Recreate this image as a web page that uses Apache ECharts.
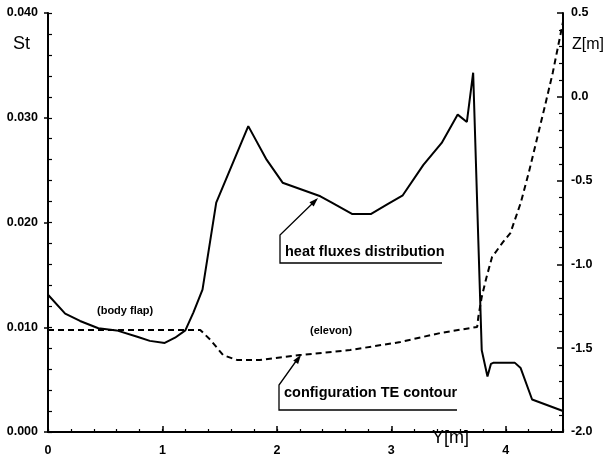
<!DOCTYPE html>
<html><head><meta charset="utf-8">
<script src="https://cdn.jsdelivr.net/npm/echarts@6.0.0/dist/echarts.min.js"></script>
<style>html,body{margin:0;padding:0;background:#fff}#c{width:608px;height:466px}</style>
</head><body><div id="c"></div>
<script>
// Heat flux (Stanton number) distribution
const stY = [0, 0.15, 0.28, 0.44, 0.60, 0.78, 0.89, 1.02, 1.11, 1.20, 1.27, 1.35, 1.47, 1.75, 1.91, 2.05, 2.38, 2.48, 2.66, 2.82, 2.96, 3.10, 3.28, 3.44, 3.58, 3.66, 3.715, 3.76, 3.79, 3.84, 3.87, 3.89, 4.08, 4.13, 4.23, 4.5];
const stVal = [0.0131, 0.0113, 0.0106, 0.0099, 0.0097, 0.0091, 0.0087, 0.0085, 0.0090, 0.0097, 0.0114, 0.0136, 0.0219, 0.0292, 0.0260, 0.0238, 0.0225, 0.0219, 0.0208, 0.0208, 0.0217, 0.0226, 0.0255, 0.0276, 0.0303, 0.0296, 0.0343, 0.0183, 0.0078, 0.0053, 0.0065, 0.0066, 0.0066, 0.0061, 0.0031, 0.0020];
// Configuration TE contour
const zY = [0, 1.33, 1.42, 1.53, 1.65, 1.85, 2.20, 2.64, 3.08, 3.43, 3.75, 3.76, 3.79, 3.83, 3.88, 3.97, 4.04, 4.13, 4.20, 4.27, 4.34, 4.41, 4.5];
const zVal = [-1.391, -1.391, -1.451, -1.541, -1.570, -1.570, -1.541, -1.511, -1.463, -1.409, -1.373, -1.314, -1.194, -1.081, -0.956, -0.872, -0.813, -0.634, -0.455, -0.258, -0.061, 0.142, 0.446];
// Axis texts
const xTitle = 'Y[m]';
const leftTitle = 'St';
const rightTitle = 'Z[m]';
const notes = ['(body flap)', '(elevon)', 'heat fluxes distribution', 'configuration TE contour'];

const stData = stY.map((x, i) => [x, stVal[i]]);
const zData = zY.map((x, i) => [x, zVal[i]]);

const FF = '"Liberation Sans", Arial, sans-serif';
const black = '#000';

function arrow(x0, y0, x1, y1) {
  const dx = x1 - x0, dy = y1 - y0, L = Math.hypot(dx, dy);
  const ux = dx / L, uy = dy / L, px = -uy, py = ux;
  const hl = 9, hw = 3;
  const bx = x1 - ux * hl, by = y1 - uy * hl;
  return {
    type: 'polygon',
    shape: { points: [[x1, y1], [bx + px * hw, by + py * hw], [bx - px * hw, by - py * hw]] },
    style: { fill: black }
  };
}

const chart = echarts.init(document.getElementById('c'), null, { renderer: 'canvas' });
const lbl = { color: black, fontWeight: 'bold', fontSize: 12.5, fontFamily: FF };
chart.setOption({
  animation: false,
  backgroundColor: '#fff',
  grid: { left: 48, right: 45, top: 13, bottom: 34, containLabel: false },
  xAxis: [
    { type: 'value', min: 0, max: 4.5, interval: 1, position: 'bottom',
      axisLine: { onZero: false, lineStyle: { color: black, width: 2 } },
      axisTick: { inside: true, length: 6, lineStyle: { color: black, width: 1.5 } },
      axisLabel: Object.assign({ showMaxLabel: false, margin: 12 }, lbl),
      splitLine: { show: false } },
    { type: 'value', min: 0, max: 4.5, interval: 0.2, position: 'bottom',
      axisLine: { show: false, onZero: false },
      axisTick: { inside: true, length: 3, lineStyle: { color: black, width: 1.2 } },
      axisLabel: { show: false }, splitLine: { show: false } }
  ],
  yAxis: [
    { type: 'value', min: 0, max: 0.04, interval: 0.01, position: 'left',
      axisLine: { show: true, onZero: false, lineStyle: { color: black, width: 2 } },
      axisTick: { show: true, inside: false, length: 4, lineStyle: { color: black, width: 1.5 } },
      axisLabel: Object.assign({ margin: 10, formatter: v => v.toFixed(3) }, lbl),
      splitLine: { show: false } },
    { type: 'value', min: -2, max: 0.5, interval: 0.5, position: 'right',
      axisLine: { show: true, onZero: false, lineStyle: { color: black, width: 2 } },
      axisTick: { show: true, inside: true, length: 6, lineStyle: { color: black, width: 1.5 } },
      minorTick: { show: true, splitNumber: 5, length: 4, lineStyle: { color: black, width: 1.2 } },
      axisLabel: Object.assign({ margin: 8, formatter: v => v.toFixed(1) }, lbl),
      splitLine: { show: false } },
    { type: 'value', min: 0, max: 0.04, interval: 0.002, position: 'left',
      axisLine: { show: false, onZero: false },
      axisTick: { show: true, inside: true, length: 4, lineStyle: { color: black, width: 1.2 } },
      axisLabel: { show: false }, splitLine: { show: false } }
  ],
  series: [
    { type: 'line', xAxisIndex: 0, yAxisIndex: 0, data: stData, symbol: 'none',
      lineStyle: { color: black, width: 2 } },
    { type: 'line', xAxisIndex: 0, yAxisIndex: 1, data: zData, symbol: 'none',
      lineStyle: { color: black, width: 2, type: [6, 4] } }
  ],
  graphic: [
    { type: 'text', left: 13, top: 35, style: { text: leftTitle, font: '18px ' + FF, fill: black } },
    { type: 'text', left: 572, top: 37, style: { text: rightTitle, font: '16px ' + FF, fill: black } },
    { type: 'text', left: 432, top: 429, style: { text: xTitle, font: '18px ' + FF, fill: black } },
    { type: 'text', left: 97, top: 305, style: { text: notes[0], font: 'bold 11px ' + FF, fill: black } },
    { type: 'text', left: 310, top: 325, style: { text: notes[1], font: 'bold 11px ' + FF, fill: black } },
    { type: 'text', left: 285, top: 244, style: { text: notes[2], font: 'bold 14.5px ' + FF, fill: black } },
    { type: 'text', left: 284, top: 385, style: { text: notes[3], font: 'bold 14.5px ' + FF, fill: black } },
    { type: 'polyline', shape: { points: [[316, 200], [280, 235], [280, 263], [442, 263]] }, style: { stroke: black, lineWidth: 1.3, fill: null } },
    arrow(280, 235, 318, 198),
    { type: 'polyline', shape: { points: [[299, 357], [279, 385], [279, 410], [457, 410]] }, style: { stroke: black, lineWidth: 1.3, fill: null } },
    arrow(279, 385, 301, 355)
  ]
});
</script>
</body></html>
